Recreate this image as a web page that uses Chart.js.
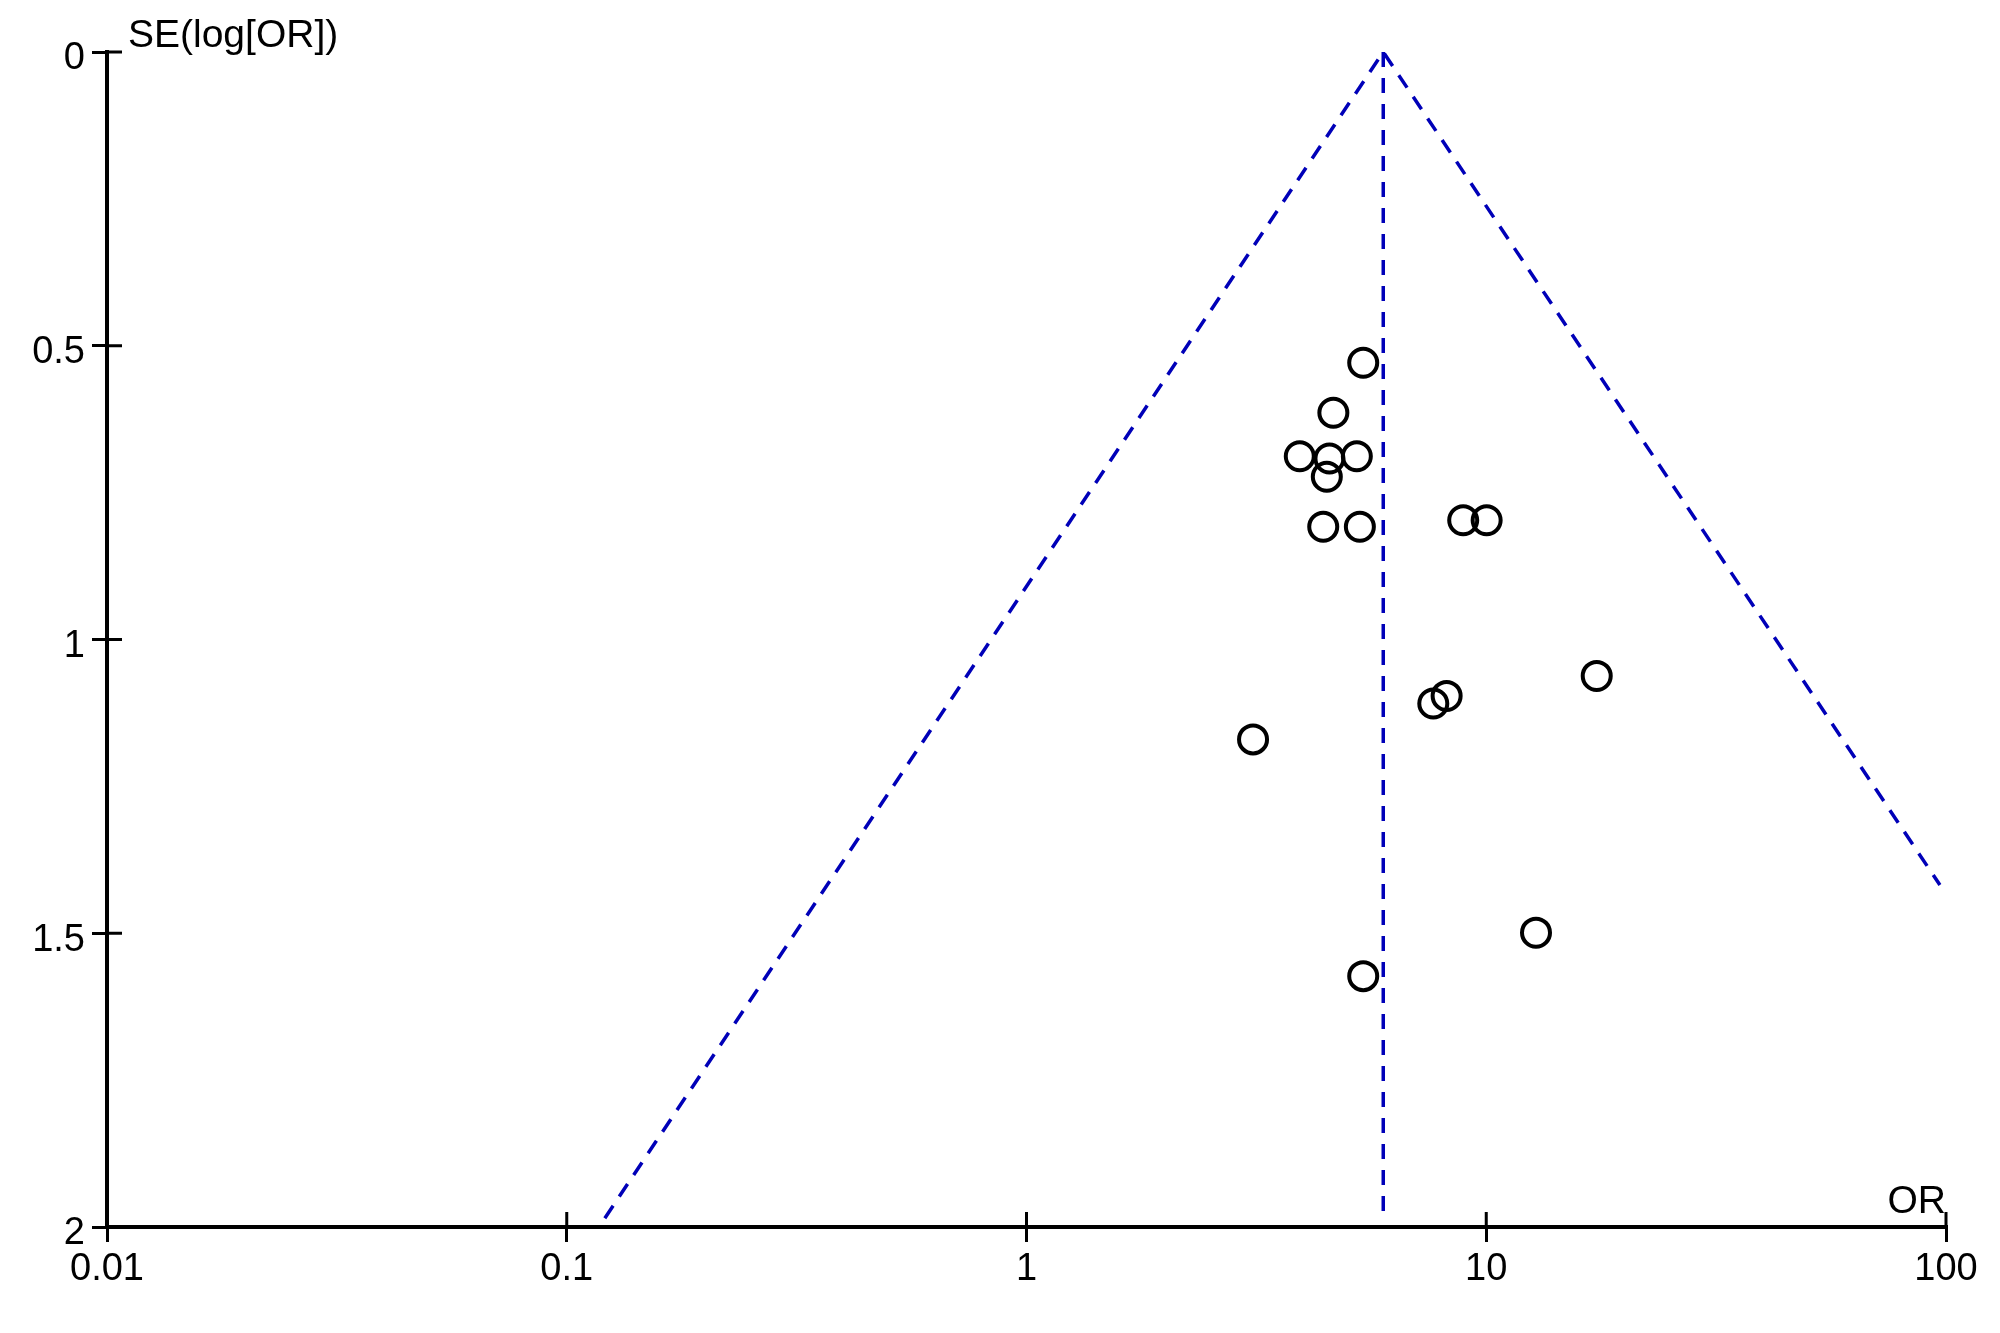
<!DOCTYPE html>
<html>
<head>
<meta charset="utf-8">
<title>Funnel plot</title>
<script src="https://cdn.jsdelivr.net/npm/chart.js@4.4.1/dist/chart.umd.min.js"></script>
<style>
  html, body { margin: 0; padding: 0; background: #fff; }
  #wrap { width: 2000px; height: 1333px; }
</style>
</head>
<body>
<div id="wrap"><canvas id="funnelChart" width="2000" height="1333"></canvas></div>
<script>
// ---- data ----
const studyOR = [5.40, 4.65, 3.93, 4.56, 5.23, 4.50, 4.42, 5.31, 8.91, 10.02, 17.39, 8.20, 7.67, 3.11, 12.83, 5.40];
const studySE = [0.529, 0.614, 0.688, 0.692, 0.688, 0.723, 0.808, 0.808, 0.797, 0.797, 1.062, 1.096, 1.109, 1.170, 1.499, 1.573];

// funnel edges (left foot, apex, right end) and the centre line
const funnelOR = [0.121, 5.97, 97];
const funnelSE = [1.985, 0, 1.418];
const centreOR = [5.97, 5.97];
const centreSE = [0, 1.985];

const xTicks = [0.01, 0.1, 1, 10, 100];
const xTickLabels = ["0.01", "0.1", "1", "10", "100"];
const yTicks = [0, 0.5, 1, 1.5, 2];
const yTickLabels = ["0", "0.5", "1", "1.5", "2"];

const FONT = "'Liberation Sans', Arial, sans-serif";
const BLUE = "#0000b8";

const toPoints = (xs, ys) => xs.map((x, i) => ({ x: x, y: ys[i] }));

// ticks in the reference cross the axis line, chart.js only draws the outer half
const crossTicks = {
  id: "crossTicks",
  afterDraw(chart) {
    const ctx = chart.ctx;
    const xs = chart.scales.x;
    const ys = chart.scales.y;
    const area = chart.chartArea;
    ctx.save();
    ctx.strokeStyle = "#000";
    ctx.lineWidth = 3;
    ctx.beginPath();
    xTicks.forEach((v) => {
      const px = xs.getPixelForValue(v);
      ctx.moveTo(px, area.bottom);
      ctx.lineTo(px, area.bottom - 15);
    });
    yTicks.forEach((v) => {
      const py = ys.getPixelForValue(v);
      ctx.moveTo(area.left, py);
      ctx.lineTo(area.left + 15, py);
    });
    ctx.stroke();

    // axis titles
    ctx.fillStyle = "#000";
    ctx.font = "39px " + FONT;
    ctx.textBaseline = "alphabetic";
    ctx.textAlign = "left";
    ctx.fillText("SE(log[OR])", area.left + 21, area.top - 5);
    ctx.textAlign = "right";
    ctx.fillText("OR", area.right, area.bottom - 14);
    ctx.restore();
  },
};

new Chart(document.getElementById("funnelChart"), {
  type: "scatter",
  data: {
    datasets: [
      {
        label: "Studies",
        data: toPoints(studyOR, studySE),
        pointStyle: "circle",
        pointRadius: 14,
        pointHoverRadius: 14,
        backgroundColor: "rgba(0,0,0,0)",
        borderColor: "#000",
        borderWidth: 4,
      },
      {
        label: "Funnel",
        data: toPoints(funnelOR, funnelSE),
        showLine: true,
        pointRadius: 0,
        borderColor: BLUE,
        borderWidth: 3.5,
        borderDash: [15, 11],
        fill: false,
      },
      {
        label: "Pooled OR",
        data: toPoints(centreOR, centreSE),
        showLine: true,
        pointRadius: 0,
        borderColor: BLUE,
        borderWidth: 3.5,
        borderDash: [15, 11],
        fill: false,
      },
    ],
  },
  options: {
    responsive: false,
    animation: false,
    devicePixelRatio: 1,
    layout: { padding: { left: 0, right: 54, top: 52, bottom: 0 } },
    plugins: {
      legend: { display: false },
      tooltip: { enabled: false },
    },
    scales: {
      x: {
        type: "logarithmic",
        position: "bottom",
        min: 0.01,
        max: 100,
        afterBuildTicks: (scale) => {
          scale.ticks = xTicks.map((v) => ({ value: v }));
        },
        afterFit: (scale) => {
          scale.height = 106;
        },
        ticks: {
          autoSkip: false,
          maxRotation: 0,
          padding: 5,
          color: "#000",
          font: { family: FONT, size: 38 },
          callback: (value) => xTickLabels[xTicks.indexOf(value)],
        },
        grid: {
          drawOnChartArea: false,
          drawTicks: true,
          tickLength: 15,
          color: "#000",
          lineWidth: 3,
        },
        border: { display: true, color: "#000", width: 4 },
      },
      y: {
        type: "linear",
        reverse: true,
        min: 0,
        max: 2,
        afterBuildTicks: (scale) => {
          scale.ticks = yTicks.map((v) => ({ value: v }));
        },
        afterFit: (scale) => {
          scale.width = 107;
        },
        ticks: {
          autoSkip: false,
          padding: 7,
          labelOffset: 7,
          color: "#000",
          font: { family: FONT, size: 38 },
          callback: (value) => yTickLabels[yTicks.indexOf(value)],
        },
        grid: {
          drawOnChartArea: false,
          drawTicks: true,
          tickLength: 15,
          color: "#000",
          lineWidth: 3,
        },
        border: { display: true, color: "#000", width: 4 },
      },
    },
  },
  plugins: [crossTicks],
});
</script>
</body>
</html>
